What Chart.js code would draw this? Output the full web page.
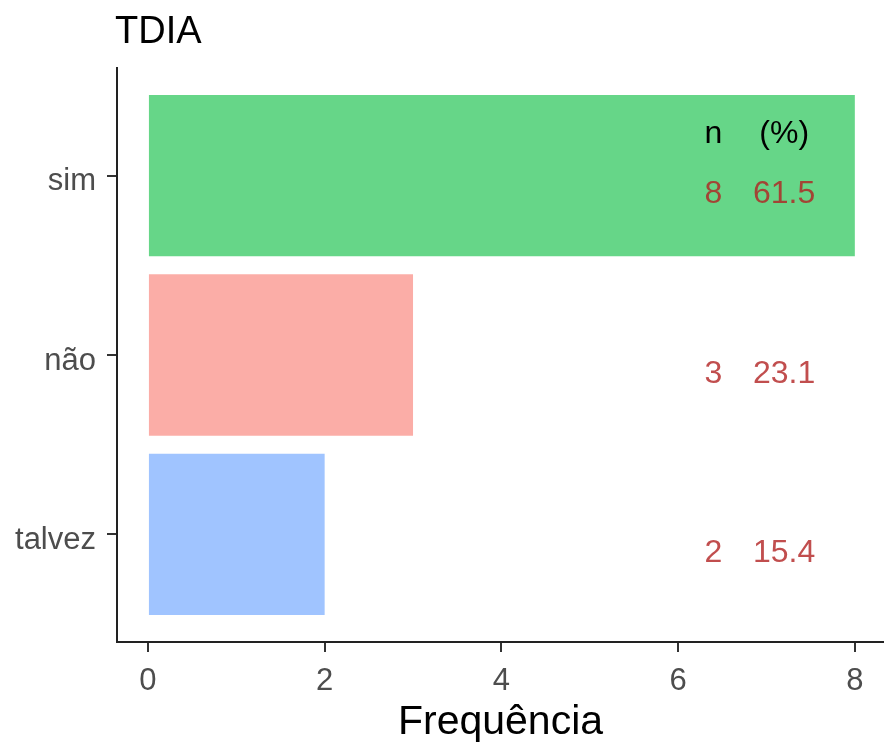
<!DOCTYPE html>
<html>
<head>
<meta charset="utf-8">
<script src="https://cdn.jsdelivr.net/npm/chart.js@4"></script>
<style>
  html, body { margin: 0; padding: 0; background: #fff; }
  #wrap { width: 884px; height: 747px; position: relative; }
</style>
</head>
<body>
<div id="wrap"><canvas id="chart"></canvas></div>
<script>
// Data
const categories = ["sim", "não", "talvez"];
const counts = [8, 3, 2];
const percents = ["61.5", "23.1", "15.4"];
const barColors = ["rgba(0,186,56,0.6)", "rgba(248,118,109,0.6)", "rgba(97,156,255,0.6)"];
const xTicks = [0, 2, 4, 6, 8];
const chartTitle = "TDIA";
const xTitle = "Frequência";

Chart.defaults.font.family = "'Liberation Sans', Arial, sans-serif";

// Draws the plot title and the n / (%) text columns
const annotations = {
    id: "annotations",
    afterDatasetsDraw(chart) {
        const ctx = chart.ctx;
        const x = chart.scales.x;
        const y = chart.scales.y;
        ctx.save();
        ctx.textAlign = "center";
        ctx.textBaseline = "middle";
        ctx.font = "32px 'Liberation Sans', Arial, sans-serif";

        // header row
        ctx.fillStyle = "#000";
        ctx.fillText("n", x.getPixelForValue(6.4), y.getPixelForValue(-0.23));
        ctx.fillText("(%)", x.getPixelForValue(7.2), y.getPixelForValue(-0.23));

        // one row of counts and percents per category
        ctx.fillStyle = "rgba(178,34,34,0.8)";
        categories.forEach((c, i) => {
            const py = y.getPixelForValue(i + 0.105);
            ctx.fillText(String(counts[i]), x.getPixelForValue(6.4), py);
            ctx.fillText(percents[i], x.getPixelForValue(7.2), py);
        });

        // title
        ctx.textAlign = "left";
        ctx.textBaseline = "alphabetic";
        ctx.fillStyle = "#000";
        ctx.font = "38px 'Liberation Sans', Arial, sans-serif";
        ctx.fillText(chartTitle, 115, 43);
        ctx.restore();
    }
};

new Chart(document.getElementById("chart"), {
    type: "bar",
    data: {
        datasets: [{
            data: counts.map((v, i) => ({ x: v, y: i })),
            backgroundColor: barColors,
            borderWidth: 0,
            barPercentage: 0.9,
            categoryPercentage: 1
        }]
    },
    options: {
        indexAxis: "y",
        responsive: true,
        maintainAspectRatio: false,
        animation: false,
        layout: { padding: { top: 68, left: 0, right: 0, bottom: 0 } },
        plugins: {
            legend: { display: false },
            tooltip: { enabled: false }
        },
        scales: {
            x: {
                type: "linear",
                min: -0.35,
                max: 8.33,
                afterBuildTicks: (scale) => { scale.ticks = xTicks.map(v => ({ value: v })); },
                afterFit: (scale) => { scale.height = 105; },
                grid: {
                    display: true,
                    drawOnChartArea: false,
                    drawTicks: true,
                    tickLength: 10,
                    color: "#333",
                    lineWidth: 2
                },
                border: { display: true, color: "#222", width: 2 },
                ticks: {
                    color: "#4D4D4D",
                    font: { size: 31 },
                    padding: 11
                },
                title: {
                    display: true,
                    text: xTitle,
                    color: "#000",
                    font: { size: 41 },
                    padding: { top: 0, bottom: 0 }
                }
            },
            y: {
                type: "linear",
                min: -0.6,
                max: 2.6,
                reverse: true,
                offset: false,
                afterBuildTicks: (scale) => { scale.ticks = categories.map((c, i) => ({ value: i })); },
                afterFit: (scale) => { scale.width = 117; },
                grid: {
                    display: true,
                    offset: false,
                    drawOnChartArea: false,
                    drawTicks: true,
                    tickLength: 10,
                    color: "#333",
                    lineWidth: 2
                },
                border: { display: true, color: "#222", width: 2 },
                ticks: {
                    color: "#4D4D4D",
                    font: { size: 31 },
                    padding: 11,
                    labelOffset: 6,
                    callback: (v) => categories[v]
                }
            }
        }
    },
    plugins: [annotations]
});
</script>
</body>
</html>
